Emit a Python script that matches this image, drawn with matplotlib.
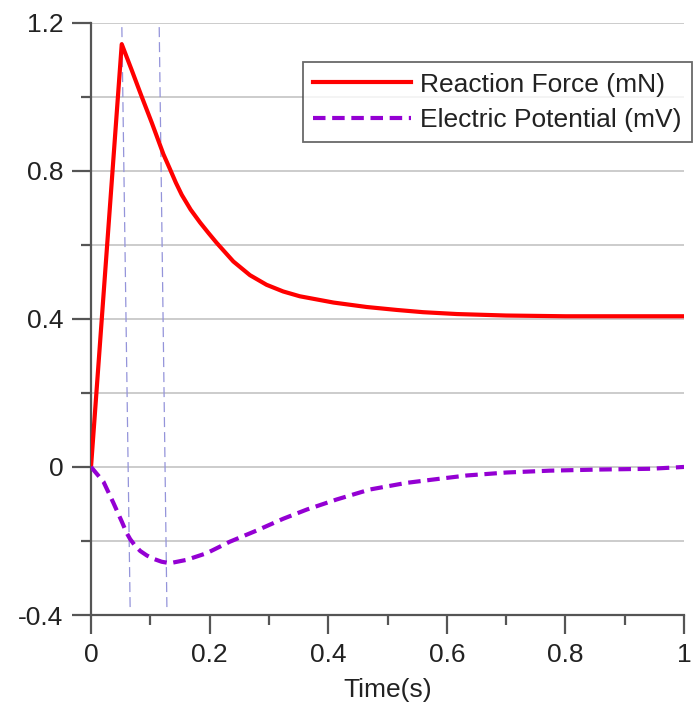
import matplotlib
matplotlib.use("Agg")
import matplotlib.pyplot as plt
from matplotlib.ticker import MultipleLocator

plt.rcParams['font.family'] = ['Liberation Sans', 'DejaVu Sans']

# reaction force (mN)
t_force = [0, 0.0518, 0.0686, 0.0855, 0.1024, 0.122, 0.133, 0.143, 0.153, 0.168,
           0.184, 0.198, 0.212, 0.240, 0.268, 0.296, 0.324, 0.352, 0.409, 0.465,
           0.516, 0.56, 0.617, 0.70, 0.80, 0.90, 1.0]
force = [0, 1.142, 1.072, 1.000, 0.930, 0.845, 0.805, 0.768, 0.735, 0.695,
         0.660, 0.632, 0.605, 0.555, 0.518, 0.492, 0.474, 0.461, 0.444, 0.432,
         0.424, 0.418, 0.413, 0.409, 0.407, 0.407, 0.407]

# electric potential (mV)
t_pot = [0, 0.021, 0.038, 0.052, 0.060, 0.066, 0.074, 0.083, 0.094, 0.105,
         0.119, 0.133, 0.161, 0.195, 0.234, 0.279, 0.324, 0.364, 0.414, 0.470,
         0.532, 0.577, 0.634, 0.701, 0.774, 0.858, 0.943, 1.0]
pot = [0, -0.040, -0.098, -0.148, -0.178, -0.195, -0.212, -0.227, -0.239, -0.248,
       -0.256, -0.260, -0.251, -0.233, -0.202, -0.172, -0.140, -0.115, -0.088, -0.061,
       -0.043, -0.034, -0.023, -0.015, -0.010, -0.007, -0.005, 0]

# slanted guide lines through the peak and the minimum
guide_x_top = [0.052, 0.115]
guide_x_bottom = [0.066, 0.128]
guide_y = [1.188, -0.385]

x_ticks = [0, 0.2, 0.4, 0.6, 0.8, 1.0]
x_labels = ['0', '0.2', '0.4', '0.6', '0.8', '1']
y_ticks = [-0.4, 0, 0.4, 0.8, 1.2]
y_labels = ['-0.4', '0', '0.4', '0.8', '1.2']

fig = plt.figure(figsize=(6.98, 7.13), dpi=100)
ax = fig.add_axes([0.1304, 0.1374, 0.980 - 0.1304, 0.9682 - 0.1374])

ax.plot(t_force, force, color='#ff0000', lw=3, label='Reaction Force (mN)',
        solid_joinstyle='round', zorder=4)
ax.plot(t_pot, pot, color='#9400d3', lw=3, ls=(0, (3, 1.6)), label='Electric Potential (mV)',
        dash_joinstyle='round', zorder=4)

for x0, x1 in zip(guide_x_top, guide_x_bottom):
    ax.plot([x0, x1], guide_y, color='#9494da', lw=0.9, ls=(0, (8, 4)), zorder=3)

ax.set_xlim(0, 1)
ax.set_ylim(-0.4, 1.2)
ax.set_xticks(x_ticks, x_labels)
ax.set_yticks(y_ticks, y_labels)
ax.xaxis.set_minor_locator(MultipleLocator(0.1))
ax.yaxis.set_minor_locator(MultipleLocator(0.2))

ax.grid(True, which='both', axis='y', color='#c8c8c8', lw=1.3, zorder=0)
ax.set_axisbelow(True)

for s in ['top', 'right']:
    ax.spines[s].set_visible(False)
for s in ['left', 'bottom']:
    ax.spines[s].set_color('#555555')
    ax.spines[s].set_linewidth(1.6)

ax.tick_params(which='major', direction='out', length=14, width=1.6, color='#555555',
               labelsize=19, labelcolor='#222222', pad=6)
ax.tick_params(which='minor', direction='out', length=7, width=1.6, color='#555555')

ax.set_xlabel('Time(s)', fontsize=19, color='#222222', labelpad=8)

leg = ax.legend(loc='upper right', bbox_to_anchor=(1.0135, 0.9336), fontsize=19,
                frameon=True, fancybox=False, handlelength=3.7, handletextpad=0.34,
                borderpad=0.4, labelspacing=0.43, borderaxespad=0)
leg.get_frame().set_edgecolor('#444444')
leg.get_frame().set_linewidth(1.3)
for txt in leg.get_texts():
    txt.set_color('#222222')

fig.savefig('out.png', dpi=100)
